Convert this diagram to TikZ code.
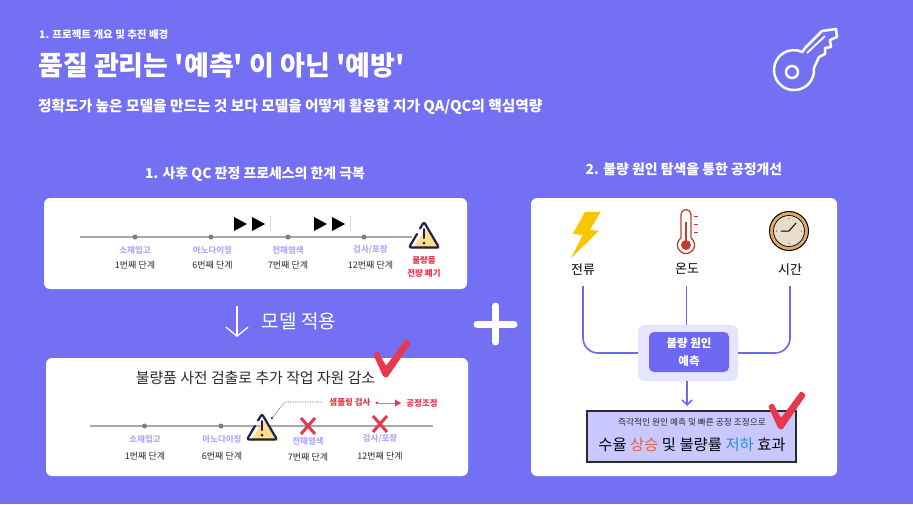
\documentclass[tikz,border=0pt]{standalone}
\usepackage{fontspec}
\setmainfont{Noto Sans CJK KR}[Ligatures=TeXOff]
\usetikzlibrary{arrows.meta,positioning,calc}
\definecolor{bgviolet}{HTML}{7470F3}
\definecolor{softviolet}{HTML}{E6E4FF}
\definecolor{midviolet}{HTML}{6C68F2}
\definecolor{lilac}{HTML}{B1ABFF}
\definecolor{alert}{HTML}{E8384F}
\definecolor{inkdark}{HTML}{2B2B2B}
\definecolor{railgray}{HTML}{A8A8A8}
\definecolor{dotgray}{HTML}{7F7F7F}
\definecolor{warnink}{HTML}{1E2250}
\definecolor{warnfill}{HTML}{FFDD8C}
\definecolor{resultfill}{HTML}{C9C7FF}
\definecolor{thermo}{HTML}{C0402B}
\definecolor{bolt}{HTML}{F7C600}
\definecolor{clockring}{HTML}{E2A866}
\definecolor{clockface}{HTML}{E8DCCB}
\newcommand{\ksize}[1]{\fontsize{#1}{#1}\selectfont}
\tikzset{
  panel/.style={fill=white, rounded corners=6pt, inner sep=0pt},
  head/.style={text=white, anchor=west, inner sep=0pt, font=\bfseries},
  stagename/.style={text=lilac, inner sep=0pt, font=\ksize{8.5}\bfseries},
  stagestep/.style={text=inkdark, inner sep=0pt, font=\ksize{9}},
  rail/.style={draw=railgray, line width=1.5pt},
  stagedot/.style={circle, fill=dotgray, minimum size=5pt, inner sep=0pt},
  redtext/.style={text=alert, inner sep=0pt, font=\ksize{8.5}\bfseries},
  feed/.style={draw=midviolet, line width=1.6pt, rounded corners=15pt},
  pics/warnsign/.style={code={
    \fill[warnfill] (2,-6) -- (17,14) -- (-11,14) -- (-8,8) -- cycle;
    \draw[warnink, line width=2.2pt, line join=round, line cap=round, rounded corners=2pt]
      (-4,-6.5) -- (0,-13) -- (15,12.5) -- (-15,12.5) -- (-7,-1);
    \draw[warnink, line width=2pt, line cap=round] (0,-6) -- (0,3);
    \fill[warnink] (0,8) circle (1.5);
  }},
  pics/redtick/.style={code={
    \fill[alert, rounded corners=1.5pt] (-12,-21) -- (-7,-24) -- (1,-9) -- (21,-36) -- (26,-32) -- (2,3) -- (-2,1) -- cycle;
  }},
  pics/redcross/.style={code={
    \draw[alert, line width=3pt] (-7,-8) -- (7,8) (7,-8) -- (-7,8);
  }},
}

\begin{document}
\begin{tikzpicture}[x=1pt, y=-1pt]
  \fill[bgviolet] (0,0) rectangle (913,504);
  % header
  \node[head, font=\ksize{10.5}\bfseries] (kicker) at (39,35) {1. 프로젝트 개요 및 추진 배경};
  \node[head, font=\ksize{27}\bfseries] (title) at (38,65) {품질 관리는 '예측' 이 아닌 '예방'};
  \node[head, font=\ksize{14.7}\bfseries] (subtitle) at (38,107) {정확도가 높은 모델을 만드는 것 보다 모델을 어떻게 활용할 지가 QA/QC의 핵심역량};
  % key
  \draw[white, line width=2.5pt, line join=round]
    (805,48) -- (822,31) -- (836,29) -- (837,37) -- (830,40) -- (831,47) -- (825,48) -- (825,54) -- (819,57) -- (813.9,68)
    arc[start angle=-6, end angle=295, radius=20] -- cycle;
  \draw[white, line width=2.5pt] (792,72) circle (6);
  \draw[white, line width=1.8pt] (807,53) -- (825,36);
  % section headings
  \node[text=white, font=\ksize{13.9}\bfseries, inner sep=0pt] (headleft) at (255,174) {1. 사후 QC 판정 프로세스의 한계 극복};
  \node[text=white, font=\ksize{13.9}\bfseries, inner sep=0pt] (headright) at (684,169) {2. 불량 원인 탐색을 통한 공정개선};
  % upper panel
  \node[panel, minimum width=423pt, minimum height=91pt] (before) at (255.5,243.5) {};
  \coordinate (r1a) at (80,237);
  \coordinate (r1b) at (412,237);
  \draw[rail] (r1a) -- (r1b);
  \foreach \n/\x/\tx/\a/\b in {a/135/135/소재입고/1번째 단계, b/211/212.5/아노다이징/6번째 단계, c/288/288/전해염색/7번째 단계, d/364/370.5/{검사/포장}/12번째 단계} {
    \node[stagedot] (u\n) at (\x,237) {};
    \node[stagename] (un\n) at (\tx,250) {\a};
    \node[stagestep] (us\n) at (\tx,265) {\b};
  }
  \foreach \x in {234,252,314,332} \fill[black] (\x,217) -- ++(13,7) -- ++(-13,7) -- cycle;
  \foreach \x in {270,350} \draw[black!15, line width=.6pt] (\x,216) -- (\x,231);
  \pic at (424,235) {warnsign};
  \node[redtext] (scrap1) at (424,260) {불량품};
  \node[redtext] (scrap2) at (424,273) {전량 폐기};
  % model step
  \coordinate (downtop) at (237,306);
  \coordinate (downend) at (237,337);
  \draw[white, line width=1.3pt, -{Straight Barb[length=9pt, width=22pt]}] (downtop) -- (downend);
  \node[text=white, font=\ksize{19}, inner sep=0pt] (apply) at (299,321) {모델 적용};
  % plus
  \draw[white, line width=7pt, line cap=round] (477,324) -- (514,324) (495.5,306) -- (495.5,342);
  % lower panel
  \node[panel, minimum width=422pt, minimum height=118pt] (after) at (257,417) {};
  \node[text=inkdark, font=\ksize{14.9}, inner sep=0pt] (aftertitle) at (255.5,378) {불량품 사전 검출로 추가 작업 자원 감소};
  \pic at (385,375) {redtick};
  \coordinate (r2a) at (90,426);
  \coordinate (r2b) at (433,426);
  \draw[rail] (r2a) -- (r2b);
  \foreach \n/\x in {a/144.5, b/221} \node[stagedot] (l\n) at (\x,426) {};
  \foreach \n/\x/\ya/\yb/\a/\b in {a/145/439/456/소재입고/1번째 단계, b/222/439/456/아노다이징/6번째 단계, c/308/441/457/전해염색/7번째 단계, d/380/439/456/{검사/포장}/12번째 단계} {
    \node[stagename] (ln\n) at (\x,\ya) {\a};
    \node[stagestep] (ls\n) at (\x,\yb) {\b};
  }
  \pic at (262,427) {warnsign};
  \pic at (308,426) {redcross};
  \pic at (380,424) {redcross};
  \node[redtext] (sample) at (350,402) {샘플링 검사};
  \node[redtext] (adjust) at (422,403) {공정조정};
  \coordinate (probe) at (272,418);
  \fill[black] (probe) circle (1.2);
  \draw[black!70, densely dotted, line width=.7pt] (probe) -- (285,402) -- ($(sample.west)+(-7,0)$);
  \coordinate (flowa) at (377,403);
  \coordinate (flowb) at (401,403);
  \fill[alert] (flowa) circle (1.7);
  \draw[alert!70, line width=1pt, -{Triangle[length=6pt, width=7pt, color=alert]}] (flowa) -- (flowb);
  % right panel
  \node[panel, minimum width=306pt, minimum height=278pt] (causes) at (684,337) {};
  \fill[bolt] (585,212) -- (572.7,234) -- (582.7,235) -- (571,258.3) -- (599,230.7) -- (590,230) -- (600.7,211.7) -- cycle;
  \draw[thermo, line width=1.3pt] (681,238) -- (681,214.5) arc[start angle=180, end angle=360, radius=5] -- (691,238)
    arc[start angle=-54, end angle=234, radius=8.6];
  \fill[thermo] (686,245) circle (5);
  \draw[thermo, line width=1.8pt] (686,242) -- (686,222);
  \foreach \y in {216,224,232} \draw[thermo, line width=1pt] (694,\y) -- (698,\y);
  \draw[black, line width=1pt, fill=clockring] (789,231) circle (19.5);
  \draw[black, line width=.7pt, fill=clockface] (789,231) circle (15.5);
  \draw[black, line width=1pt] (781,231) -- (789,231) -- (796,223);
  \foreach \a in {0,90,180,270} \fill[black!70] (789,231) ++(\a:12.5) circle (.6);
  \node[text=black, font=\ksize{13}, inner sep=0pt] (current) at (583,270) {전류};
  \node[text=black, font=\ksize{13}, inner sep=0pt] (temp) at (687,269) {온도};
  \node[text=black, font=\ksize{13}, inner sep=0pt] (hours) at (790,270) {시간};
  \node[fill=softviolet, rounded corners=7pt, minimum width=100pt, minimum height=56pt, inner sep=0pt] (predictout) at (688,353) {};
  \node[fill=midviolet, rounded corners=5pt, minimum width=80pt, minimum height=40pt, inner sep=0pt, text=white, align=center, font=\ksize{11.5}\bfseries] (predict) at (689,352) {불량 원인\\[7pt]예측};
  \coordinate (tempfoot) at (686.5,325);
  \coordinate (resulttop) at (687,406);
  \draw[feed] (583,286) |- (predictout.west);
  \draw[feed] (790,286) |- (predictout.east);
  \draw[feed] (686.5,286) -- (tempfoot);
  \node[draw=inkdark, line width=1.4pt, fill=resultfill, minimum width=209pt, minimum height=51pt, inner sep=0pt] (result) at (691.5,436.5) {};
  \draw[midviolet, line width=1.5pt, -{Straight Barb[length=5pt, width=10pt]}] (predictout.south -| resulttop) -- (resulttop);
  \node[text=inkdark, font=\ksize{8.7}, inner sep=0pt] (resultnote) at (692,422) {즉각적인 원인 예측 및 빠른 공정 조정으로};
  \node[text=black, font=\ksize{15.4}, inner sep=0pt] (resulttext) at (692,445) {수율 {\color[HTML]{E8603C}상승} 및 불량률 {\color[HTML]{2E8FD0}저하} 효과};
  \pic at (780,427) {redtick};
\end{tikzpicture}
\end{document}
